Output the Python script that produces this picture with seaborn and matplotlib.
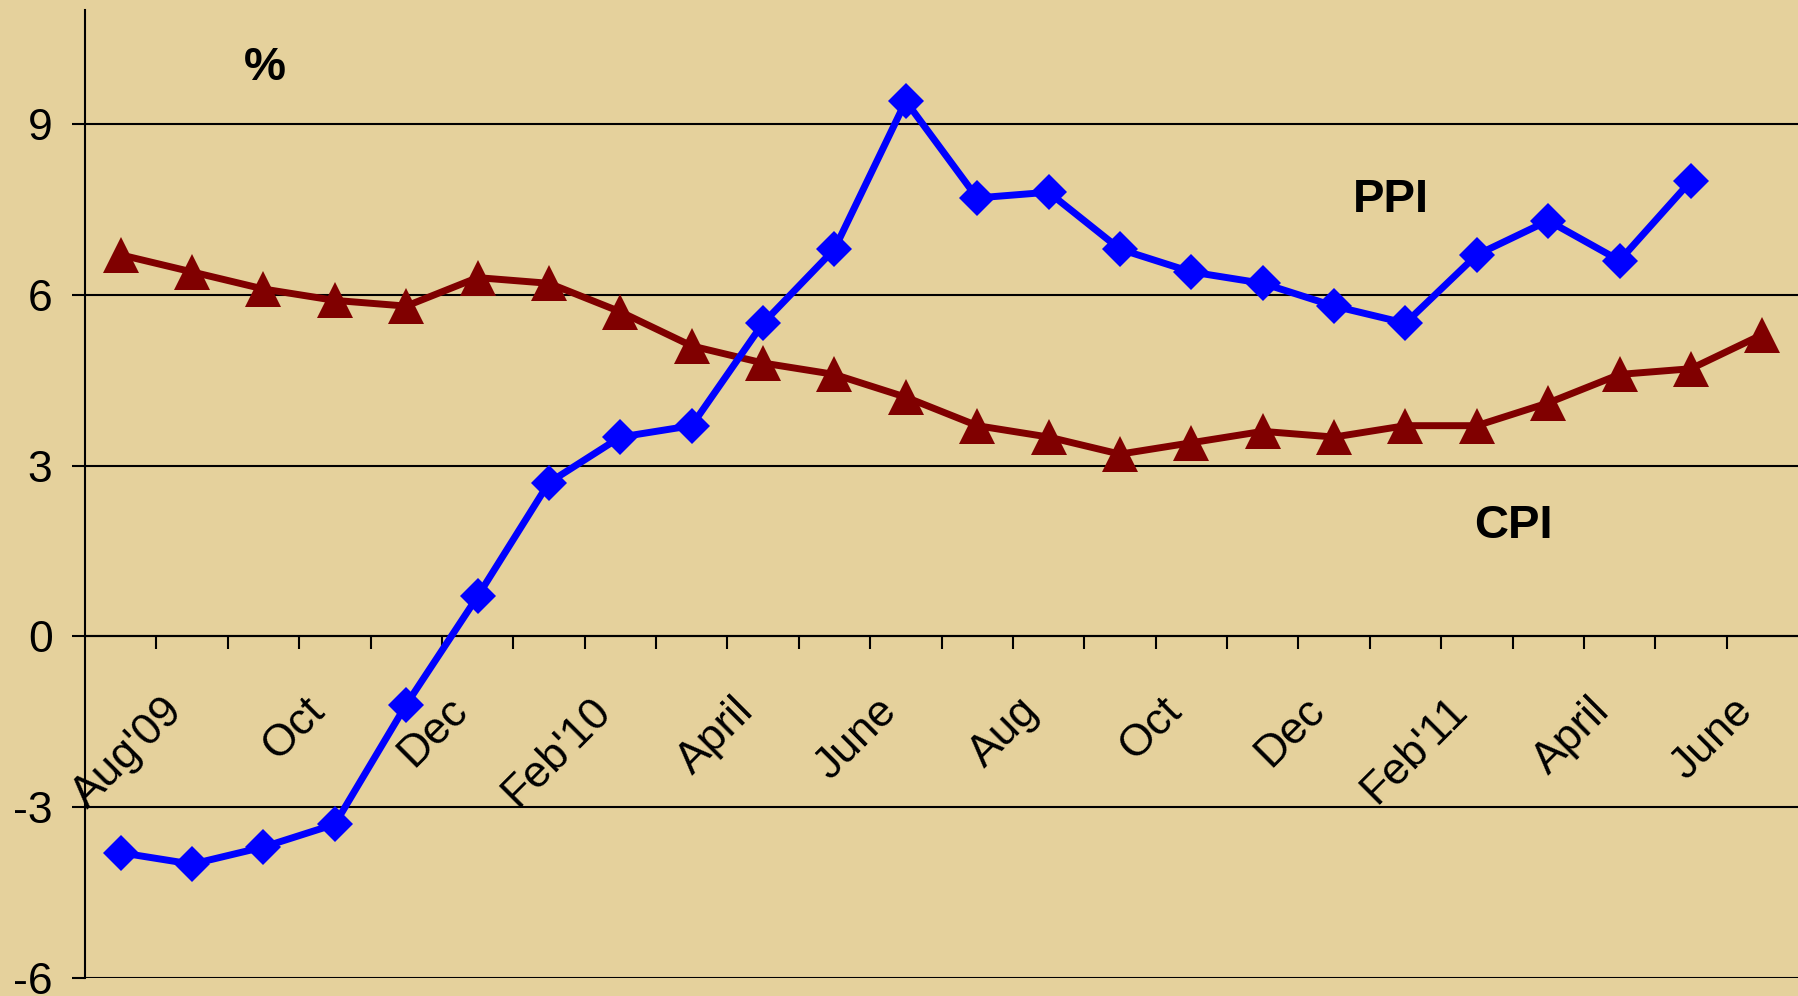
import matplotlib
matplotlib.use("Agg")
import matplotlib.pyplot as plt
import matplotlib.transforms as mtransforms
import numpy as np
import pandas as pd
import seaborn as sns

# ---- data ----
months = ["Aug'09", "Sep", "Oct", "Nov", "Dec", "Jan'10", "Feb'10", "Mar",
          "April", "May", "June", "July", "Aug", "Sep", "Oct", "Nov",
          "Dec", "Jan'11", "Feb'11", "Mar", "April", "May", "June", "July"]
tick_labels = ["Aug'09", "Oct", "Dec", "Feb'10", "April", "June",
               "Aug", "Oct", "Dec", "Feb'11", "April", "June"]
ppi = [-3.8, -4.0, -3.7, -3.3, -1.2, 0.7, 2.7, 3.5, 3.7, 5.5, 6.8, 9.4,
       7.7, 7.8, 6.8, 6.4, 6.2, 5.8, 5.5, 6.7, 7.3, 6.6, 8.0]
cpi = [6.7, 6.4, 6.1, 5.9, 5.8, 6.3, 6.2, 5.7, 5.1, 4.8, 4.6, 4.2,
       3.7, 3.5, 3.2, 3.4, 3.6, 3.5, 3.7, 3.7, 4.1, 4.6, 4.7, 5.3]
y_ticks = [-6, -3, 0, 3, 6, 9]

BG = "#E5D19C"
BLUE = "#0000FF"
RED = "#800000"

sns.set_theme(style="white")
plt.rcParams['font.family'] = ['Liberation Sans', 'DejaVu Sans']
plt.rcParams['text.color'] = 'black'
plt.rcParams['xtick.color'] = 'black'
plt.rcParams['ytick.color'] = 'black'

df = pd.concat([
    pd.DataFrame({"idx": np.arange(len(ppi)), "value": ppi, "series": "PPI"}),
    pd.DataFrame({"idx": np.arange(len(cpi)), "value": cpi, "series": "CPI"}),
])

fig = plt.figure(figsize=(17.98, 9.96), dpi=100, facecolor=BG)
ax = fig.add_axes([85/1798, 18/996, 1 - 85/1798, 968/996])
ax.set_facecolor(BG)

sns.lineplot(data=df[df.series == "CPI"], x="idx", y="value", color=RED,
             marker="^", markersize=26, markeredgewidth=0, linewidth=5,
             ax=ax, legend=False, zorder=3)
sns.lineplot(data=df[df.series == "PPI"], x="idx", y="value", color=BLUE,
             marker="D", markersize=18.5, markeredgewidth=0, linewidth=5,
             ax=ax, legend=False, zorder=4)

ax.set_xlim(-0.5, len(months) - 0.5)
ax.set_ylim(-6, 11)
ax.set_xlabel("")
ax.set_ylabel("")

# y axis
ax.set_yticks(y_ticks)
ax.set_yticklabels([str(v) for v in y_ticks], fontsize=32, color="black")
ax.tick_params(axis="y", direction="out", length=9.4, width=1.5, pad=14,
               color="black", labelcolor="black", left=True)
ax.grid(axis="y", color="black", linewidth=1.5, zorder=1)
ax.set_axisbelow(True)

# x axis at zero
for s in ["top", "right"]:
    ax.spines[s].set_visible(False)
ax.spines["bottom"].set_position(("data", 0))
ax.spines["bottom"].set_color("black")
ax.spines["bottom"].set_linewidth(1.5)
ax.spines["left"].set_color("black")
ax.spines["left"].set_linewidth(1.5)

ax.set_xticks(np.arange(0, len(months), 2))
ax.set_xticklabels(tick_labels, fontsize=32, rotation=45, ha="right",
                   va="top", color="black")
ax.set_xticks(np.arange(0.5, len(months) - 1, 1), minor=True)
ax.tick_params(axis="x", which="major", length=0, pad=38.5,
               labelcolor="black")
ax.tick_params(axis="x", which="minor", direction="out", length=9.4,
               width=1.5, color="black", bottom=True)
offset = mtransforms.ScaledTranslation(0.70, 0, fig.dpi_scale_trans)
for lab in ax.get_xticklabels():
    lab.set_transform(lab.get_transform() + offset)

# annotations
ax.text(2.02, 9.98, "%", fontsize=34, fontweight="bold", ha="center",
        va="center", color="black")
ax.text(17.79, 7.66, "PPI", fontsize=34, fontweight="bold", ha="center",
        va="center", color="black")
ax.text(19.51, 1.94, "CPI", fontsize=34, fontweight="bold", ha="center",
        va="center", color="black")

fig.savefig("out.png", dpi=100, facecolor=BG)
